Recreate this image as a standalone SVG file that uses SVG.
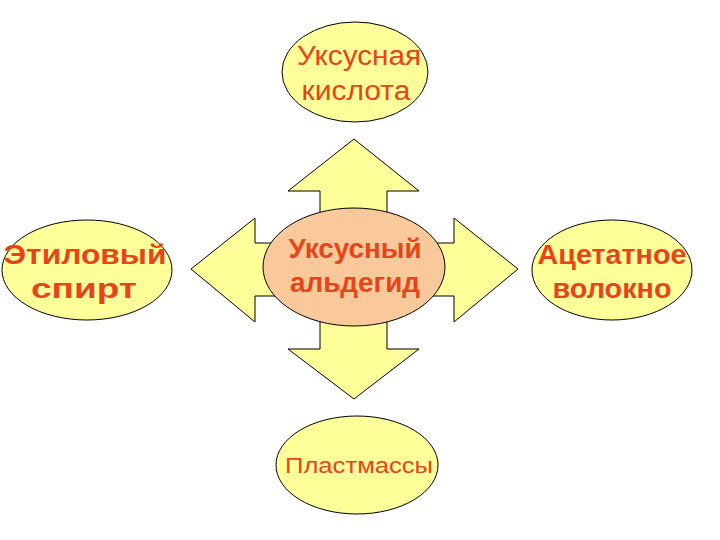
<svg xmlns="http://www.w3.org/2000/svg" width="720" height="540" viewBox="0 0 720 540">
<style>
.n{fill:#FFFF99;stroke:#000;stroke-width:1}
.a{fill:#FFFF99;stroke:#000;stroke-width:1}
.t{font-family:"Liberation Sans",Arial,sans-serif;font-weight:bold;fill:#E8441A;text-anchor:middle;font-size:27px}
.r{font-weight:normal}
</style>
<rect width="720" height="540" fill="#fff"/>
<g id="connectors">
<polygon class="a" points="354,139 419,191 387,191 387,267 320,267 320,191 288,191"/>
<polygon class="a" points="354,399 419,349 387,349 387,267 320,267 320,349 288,349"/>
<polygon class="a" points="191,269 255,218 255,243 354,243 354,296 255,296 255,322"/>
<polygon class="a" points="518,269 454,218 454,243 354,243 354,296 454,296 454,322"/>
</g>
<g id="center"><ellipse cx="354" cy="267" rx="91" ry="59" fill="#F9C99B" stroke="#000"/>
<text class="t" x="355" y="258" textLength="133" lengthAdjust="spacingAndGlyphs">Уксусный</text><text class="t" x="355" y="292" textLength="130" lengthAdjust="spacingAndGlyphs">альдегид</text></g>
<g id="top"><ellipse class="n" cx="355" cy="72" rx="73" ry="50"/>
<text class="t r" x="359" y="65" textLength="124" lengthAdjust="spacingAndGlyphs">Уксусная</text><text class="t r" x="356" y="100" textLength="109" lengthAdjust="spacingAndGlyphs">кислота</text></g>
<g id="left"><ellipse class="n" cx="87" cy="270" rx="85" ry="50"/>
<text class="t" x="85" y="264" textLength="163" lengthAdjust="spacingAndGlyphs">Этиловый</text><text class="t" x="84" y="298" textLength="106" lengthAdjust="spacingAndGlyphs">спирт</text></g>
<g id="right"><ellipse class="n" cx="612" cy="270" rx="80" ry="50"/>
<text class="t" x="612" y="264" textLength="149" lengthAdjust="spacingAndGlyphs">Ацетатное</text><text class="t" x="612" y="298" textLength="119" lengthAdjust="spacingAndGlyphs">волокно</text></g>
<g id="bottom"><ellipse class="n" cx="357" cy="465" rx="81" ry="49"/>
<text class="t r" x="359" y="473" style="font-size:22px" textLength="148" lengthAdjust="spacingAndGlyphs">Пластмассы</text></g>
</svg>
